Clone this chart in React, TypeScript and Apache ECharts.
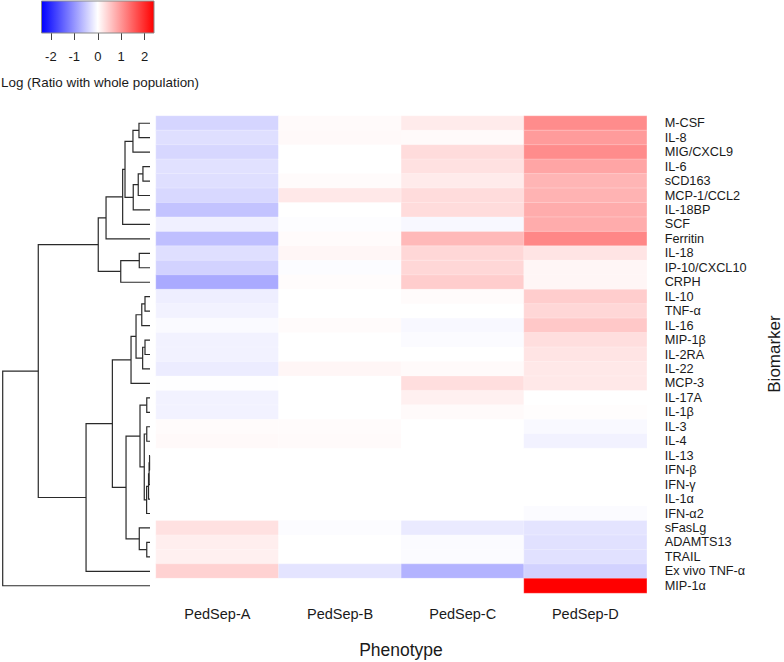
import React, { useEffect, useRef } from "react";
import * as echarts from "echarts";

const phenotypes = ["PedSep-A", "PedSep-B", "PedSep-C", "PedSep-D"];

const biomarkers = [
  "M-CSF", "IL-8", "MIG/CXCL9", "IL-6", "sCD163", "MCP-1/CCL2", "IL-18BP", "SCF",
  "Ferritin", "IL-18", "IP-10/CXCL10", "CRPH", "IL-10", "TNF-α", "IL-16", "MIP-1β",
  "IL-2RA", "IL-22", "MCP-3", "IL-17A", "IL-1β", "IL-3", "IL-4", "IL-13", "IFN-β",
  "IFN-γ", "IL-1α", "IFN-α2", "sFasLg", "ADAMTS13", "TRAIL", "Ex vivo TNF-α", "MIP-1α",
];

const pedSepA = [
  -0.40, -0.30, -0.38, -0.28, -0.30, -0.37, -0.56, -0.14, -0.60, -0.30, -0.42, -0.80,
  -0.16, -0.12, -0.05, -0.12, -0.12, -0.18, -0.01, -0.12, -0.12, 0.04, 0.06, 0, 0,
  0, 0, 0, 0.28, 0.16, 0.14, 0.42, 0,
];
const pedSepB = [
  0.05, 0.06, 0, 0, 0.04, 0.22, 0, -0.02, 0.04, 0.08, -0.03, 0.03,
  0, 0, 0.04, 0, 0, 0.08, 0, 0, 0, 0.04, 0.05, 0, 0,
  0, 0, 0, -0.03, 0, 0, -0.25, 0,
];
const pedSepC = [
  0.19, 0.05, 0.33, 0.28, 0.19, 0.33, 0.33, -0.07, 0.66, 0.38, 0.38, 0.47,
  0.04, 0, -0.07, -0.04, 0, 0.05, 0.31, 0.14, 0.05, 0, 0, 0, 0,
  0, 0, 0, -0.2, -0.04, -0.04, -0.72, 0,
];
const pedSepD = [
  1.08, 0.94, 1.08, 0.85, 0.7, 0.72, 0.78, 0.78, 1.13, 0.25, 0.08, 0.08,
  0.47, 0.38, 0.52, 0.31, 0.25, 0.22, 0.22, 0, 0.02, -0.06, -0.12, 0, 0,
  0, 0, -0.04, -0.25, -0.28, -0.28, -0.42, 2.4,
];

const legendTicks = [-2, -1, 0, 1, 2];
const colorMin = -2.4;
const colorMax = 2.4;

// hclust-style merges: negative = leaf (1-based row), positive = earlier merge (1-based)
const merges: [number, number, number][] = [
  [-1, -2, 0.75],
  [1, -3, 1.16],
  [-4, -5, 0.48],
  [3, -6, 0.8],
  [4, -7, 1.14],
  [2, 5, 1.7],
  [6, -8, 1.86],
  [7, -9, 2.99],
  [-10, -11, 0.73],
  [9, -12, 1.99],
  [8, 10, 3.52],
  [-13, -14, 0.34],
  [12, -15, 0.56],
  [-16, -17, 0.34],
  [14, -18, 0.5],
  [13, 15, 0.95],
  [16, -19, 1.29],
  [-20, -21, 0.22],
  [-22, -23, 0.22],
  [-24, -25, 0.03],
  [20, -26, 0.06],
  [21, -27, 0.1],
  [22, -28, 0.23],
  [19, 23, 0.39],
  [18, 24, 0.68],
  [-30, -31, 0.22],
  [-29, 26, 0.73],
  [25, 27, 1.63],
  [17, 28, 2.56],
  [29, -32, 4.35],
  [11, 30, 7.6],
  [31, -33, 10.02],
];

const FONT = "'Liberation Sans', Arial, Helvetica, sans-serif";
const TEXT = "#1a1a1a";

export default function App() {
  const ref = useRef<HTMLDivElement>(null);

  useEffect(() => {
    if (!ref.current) return;
    const chart = echarts.init(ref.current, undefined, { renderer: "svg" });

    const columns = [pedSepA, pedSepB, pedSepC, pedSepD];
    const heatData: number[][] = [];
    columns.forEach((col, ci) => col.forEach((v, ri) => heatData.push([ci, ri, v])));

    // dendrogram layout
    const centers: number[] = [];
    const heights: number[] = [];
    const pos = (id: number) => (id < 0 ? -id - 1 : centers[id - 1]);
    const hgt = (id: number) => (id < 0 ? 0 : heights[id - 1]);
    const dendroData: number[][] = [];
    merges.forEach(([a, b, h]) => {
      const y1 = pos(a), y2 = pos(b);
      dendroData.push([h, y1, hgt(a), y2, hgt(b)]);
      centers.push((y1 + y2) / 2);
      heights.push(h);
    });
    const rootH = merges[merges.length - 1][2];

    const option: any = {
      animation: false,
      backgroundColor: "#ffffff",
      textStyle: { fontFamily: FONT },
      grid: [
        { left: 41.5, top: 1, width: 112.5, height: 32 },
        { left: 156, top: 116, width: 490.7, height: 477 },
        { left: 2.7, top: 116, width: 147.3, height: 477 },
      ],
      xAxis: [
        {
          gridIndex: 0, type: "value", min: colorMin, max: colorMax, position: "bottom",
          axisLine: { show: false }, splitLine: { show: false },
          axisTick: { show: true, customValues: legendTicks, length: 7, lineStyle: { color: "#444", width: 1 } },
          axisLabel: { show: true, customValues: legendTicks, margin: 17, fontSize: 13, color: TEXT, fontFamily: FONT },
        },
        {
          gridIndex: 1, type: "category", data: phenotypes, position: "bottom",
          axisLine: { show: false }, axisTick: { show: false }, splitLine: { show: false },
          axisLabel: { interval: 0, margin: 13, fontSize: 14.5, color: TEXT, fontFamily: FONT },
        },
        {
          gridIndex: 2, type: "value", min: 0, max: rootH, inverse: true, show: false,
        },
      ],
      yAxis: [
        { gridIndex: 0, type: "value", min: 0, max: 1, show: false },
        {
          gridIndex: 1, type: "category", data: biomarkers, inverse: true, position: "right",
          axisLine: { show: false }, axisTick: { show: false }, splitLine: { show: false },
          axisLabel: { interval: 0, margin: 18, fontSize: 12.7, color: TEXT, fontFamily: FONT },
        },
        {
          gridIndex: 2, type: "value", min: -0.5, max: biomarkers.length - 0.5, inverse: true, show: false,
        },
      ],
      visualMap: {
        show: false, type: "continuous", min: colorMin, max: colorMax, seriesIndex: 1,
        inRange: { color: ["#0000ff", "#ffffff", "#ff0000"] },
      },
      series: [
        {
          type: "custom", xAxisIndex: 0, yAxisIndex: 0, silent: true,
          data: [[colorMin, 0, colorMax, 1]],
          renderItem: (_p: any, api: any) => {
            const a = api.coord([api.value(0), api.value(3)]);
            const b = api.coord([api.value(2), api.value(1)]);
            return {
              type: "rect",
              shape: { x: a[0], y: a[1], width: b[0] - a[0], height: b[1] - a[1] },
              style: {
                fill: new echarts.graphic.LinearGradient(0, 0, 1, 0, [
                  { offset: 0, color: "#0000ff" },
                  { offset: 0.5, color: "#ffffff" },
                  { offset: 1, color: "#ff0000" },
                ]),
                stroke: "#8a8a8a", lineWidth: 1,
              },
            };
          },
        },
        {
          type: "heatmap", xAxisIndex: 1, yAxisIndex: 1, data: heatData,
          itemStyle: { borderColor: "rgba(255,255,255,0.5)", borderWidth: 0.5 },
          emphasis: { disabled: true },
        },
        {
          type: "custom", xAxisIndex: 2, yAxisIndex: 2, silent: true, clip: false,
          data: dendroData,
          renderItem: (_p: any, api: any) => {
            const h = api.value(0), y1 = api.value(1), h1 = api.value(2), y2 = api.value(3), h2 = api.value(4);
            const pts = [api.coord([h1, y1]), api.coord([h, y1]), api.coord([h, y2]), api.coord([h2, y2])];
            return {
              type: "polyline",
              shape: { points: pts },
              style: { stroke: "#2a2a2a", lineWidth: 1.2, fill: "none" },
            };
          },
        },
      ],
      graphic: [
        {
          type: "text", x: 1, y: 82,
          style: { text: "Log (Ratio with whole population)", font: `13.4px ${FONT}`, fill: TEXT, textAlign: "left", textVerticalAlign: "middle" },
        },
        {
          type: "text", x: 401, y: 650,
          style: { text: "Phenotype", font: `17.5px ${FONT}`, fill: TEXT, textAlign: "center", textVerticalAlign: "middle" },
        },
        {
          type: "text", x: 774.5, y: 354, rotation: Math.PI / 2,
          style: { text: "Biomarker", font: `17px ${FONT}`, fill: TEXT, textAlign: "center", textVerticalAlign: "middle" },
        },
      ],
    };

    chart.setOption(option);
    return () => chart.dispose();
  }, []);

  return (
    <div
      ref={ref}
      style={{ position: "absolute", left: 0, top: 0, width: 784, height: 662 }}
    />
  );
}
